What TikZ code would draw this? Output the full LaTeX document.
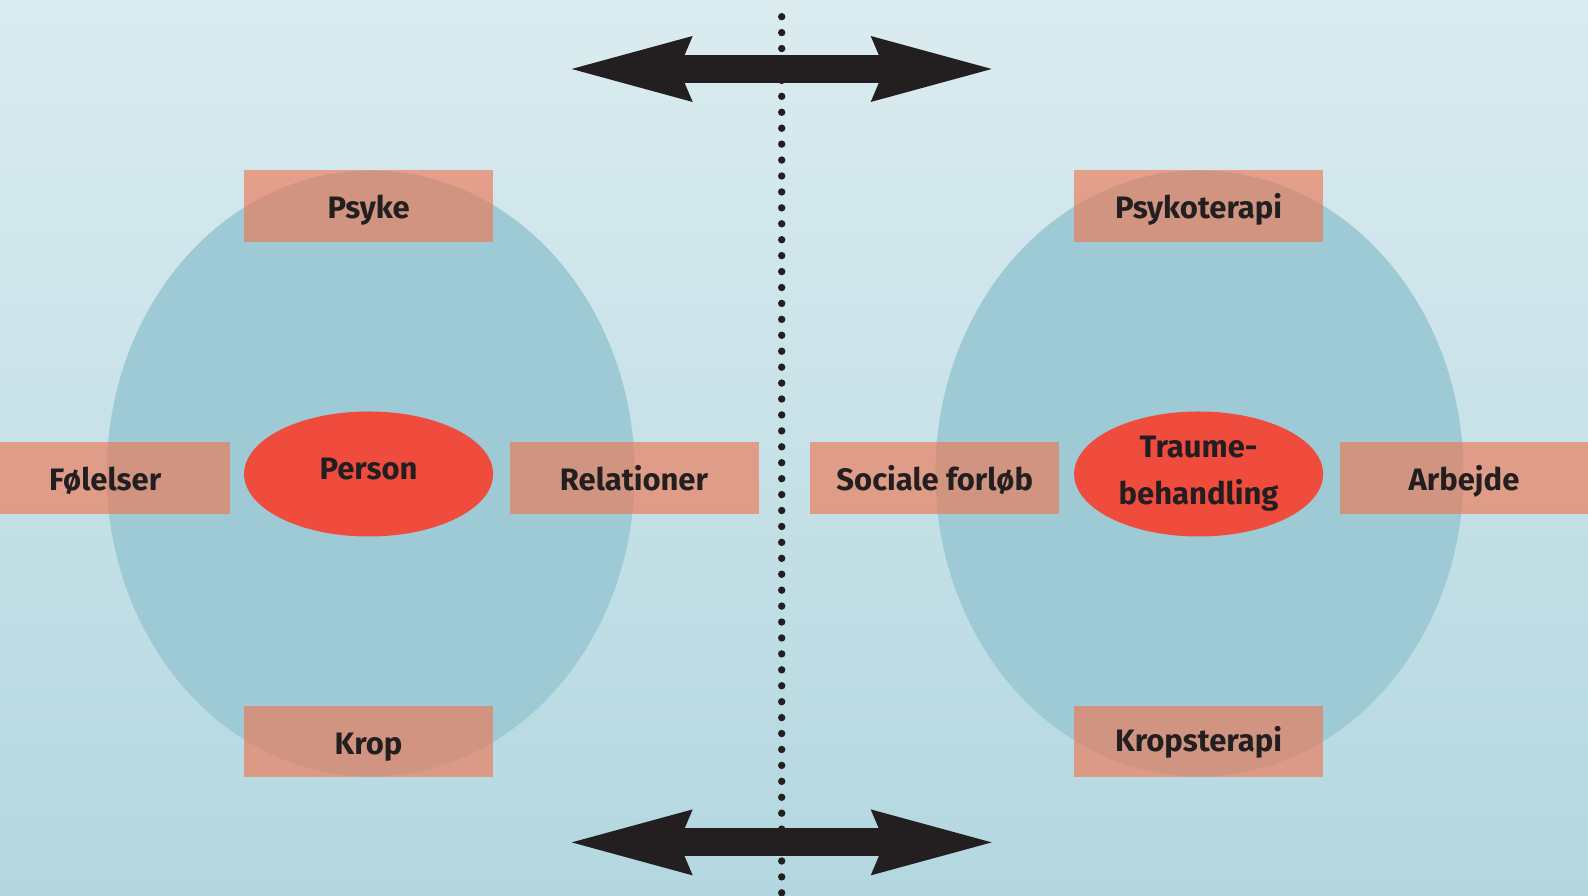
\documentclass[tikz,border=0pt]{standalone}
\usepackage{fontspec}
\setmainfont{Fira Sans}
\usepackage{tikz}
\usetikzlibrary{positioning}
\usetikzlibrary{shapes.geometric}
\usetikzlibrary{arrows.meta}
\definecolor{bgtop}{RGB}{219,236,240}
\definecolor{bgbottom}{RGB}{179,215,224}
\definecolor{blobblue}{RGB}{157,202,213}
\definecolor{boxsalmon}{RGB}{237,120,85}
\definecolor{corered}{RGB}{239,76,61}
\definecolor{inkblack}{RGB}{35,31,32}
\tikzset{
  myblob/.style={
    fill=blobblue,
    shape=ellipse,
    inner sep=0pt,
    minimum width=528pt,
    minimum height=606pt,
  },
  mycore/.style={
    fill=corered,
    shape=ellipse,
    inner sep=0pt,
    align=center,
    minimum width=249pt,
    minimum height=125pt,
    text=inkblack,
    font=\fontsize{31}{47}\selectfont\bfseries
  },
  mybox/.style={
    fill=boxsalmon,
    fill opacity=0.65,
    text opacity=1,
    shape=rectangle,
    inner sep=0pt,
    text height=25pt,
    text depth=0pt,
    minimum width=249pt,
    minimum height=71.5pt,
    text=inkblack,
    font=\fontsize{31}{37}\selectfont\bfseries
  },
  mybigarrow/.style={
    draw=inkblack,
    line width=28pt,
    {Stealth[length=121pt,width=66pt,inset=14pt,line width=0pt]}-{Stealth[length=121pt,width=66pt,inset=14pt,line width=0pt]},
  },
  mydots/.style={
    draw=inkblack,
    line width=7.4pt,
    line cap=round,
    dash pattern=on 0pt off 15.93pt,
  }
}

\begin{document}
\begin{tikzpicture}[x=1pt, y=1pt]
    \shade[top color=bgtop, bottom color=bgbottom] (0,0) rectangle (1588,896);
    \useasboundingbox (0,0) rectangle (1588,896);

    \node[myblob] (leftblob)  at (370.7,422.5)  {};
    \node[myblob] (rightblob) at (1199.5,422.5) {};

    \node[mycore] (person) at (368.6,422) {\raisebox{10pt}{Person}};
    \node[mycore] (traume) at (1198.6,422) {Traume-\\behandling};

    \node[mybox] (psyke)      [above=169.5pt of person]            {Psyke};
    \node[mybox] (krop)       [below=169pt of person]              {Krop};
    \node[mybox] (foelelser)  [left=14pt of person, yshift=-4pt]   {Følelser};
    \node[mybox] (relationer) [right=16pt of person, yshift=-4pt]  {Relationer};

    \node[mybox] (psykoterapi) [above=169.5pt of traume]           {Psykoterapi};
    \node[mybox] (kropsterapi) [below=169pt of traume, text height=19pt] {Kropsterapi};
    \node[mybox] (sociale)     [left=14.5pt of traume, yshift=-4pt] {Sociale forløb};
    \node[mybox] (arbejde)     [right=16pt of traume, yshift=-4pt]  {Arbejde};

    % dotted divider
    \coordinate (dividertop)    at (781.7,879.3);
    \coordinate (dividerbottom) at (781.7,-6);
    \draw[mydots] (dividertop) -- (dividerbottom);

    % double arrows
    \coordinate (toparrowleft)     at (571.7,827);
    \coordinate (toparrowright)    at (991.7,827);
    \coordinate (bottomarrowleft)  at (571.7,53.6);
    \coordinate (bottomarrowright) at (991.7,53.6);
    \draw[mybigarrow] (toparrowleft)    -- (toparrowright);
    \draw[mybigarrow] (bottomarrowleft) -- (bottomarrowright);
\end{tikzpicture}
\end{document}
